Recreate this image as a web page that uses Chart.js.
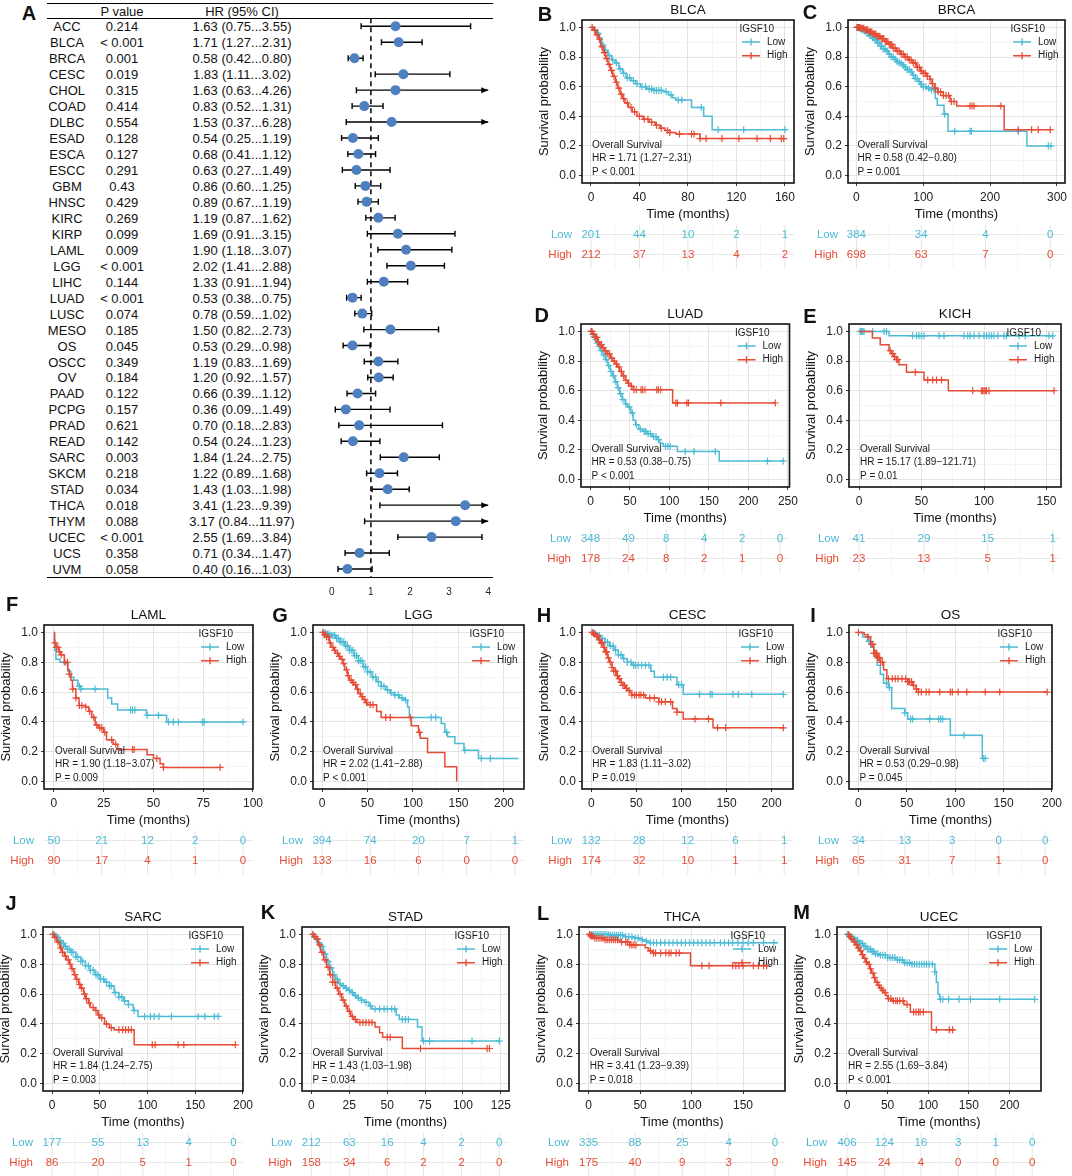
<!DOCTYPE html>
<html>
<head>
<meta charset="utf-8">
<script src="https://cdn.jsdelivr.net/npm/chart.js@4.4.1/dist/chart.umd.min.js"></script>
<style>
  body { margin:0; width:1072px; height:1176px; position:relative; overflow:hidden; background:#fff;
         font-family:'Liberation Sans', Arial, sans-serif; color:#111; }
  .t { position:absolute; white-space:nowrap; transform:translate(-50%,-50%); font-size:13px; line-height:1; }
  .lab { position:absolute; font-weight:bold; font-size:20px; transform:translate(-50%,-50%); line-height:1; }
  .rule { position:absolute; left:47px; width:446px; height:0; border-top:1.3px solid #000; }
  canvas { position:absolute; }
</style>
</head>
<body>
<script>
// ---------- panel A : forest plot ----------
var cancers = ['ACC','BLCA','BRCA','CESC','CHOL','COAD','DLBC','ESAD','ESCA','ESCC','GBM','HNSC','KIRC','KIRP',
  'LAML','LGG','LIHC','LUAD','LUSC','MESO','OS','OSCC','OV','PAAD','PCPG','PRAD','READ','SARC','SKCM','STAD',
  'THCA','THYM','UCEC','UCS','UVM'];
var pvals = ['0.214','< 0.001','0.001','0.019','0.315','0.414','0.554','0.128','0.127','0.291','0.43','0.429','0.269','0.099',
  '0.009','< 0.001','0.144','< 0.001','0.074','0.185','0.045','0.349','0.184','0.122','0.157','0.621','0.142','0.003','0.218','0.034',
  '0.018','0.088','< 0.001','0.358','0.058'];
var hr     = [1.63,1.71,0.58,1.83,1.63,0.83,1.53,0.54,0.68,0.63,0.86,0.89,1.19,1.69,1.90,2.02,1.33,0.53,0.78,1.50,0.53,1.19,1.20,0.66,0.36,0.70,0.54,1.84,1.22,1.43,3.41,3.17,2.55,0.71,0.40];
var hrLow  = [0.75,1.27,0.42,1.11,0.63,0.52,0.37,0.25,0.41,0.27,0.60,0.67,0.87,0.91,1.18,1.41,0.91,0.38,0.59,0.82,0.29,0.83,0.92,0.39,0.09,0.18,0.24,1.24,0.89,1.03,1.23,0.84,1.69,0.34,0.16];
var hrHigh = [3.55,2.31,0.80,3.02,4.26,1.31,6.28,1.19,1.12,1.49,1.25,1.19,1.62,3.15,3.07,2.88,1.94,0.75,1.02,2.73,0.98,1.69,1.57,1.12,1.49,2.83,1.23,2.75,1.68,1.98,9.39,11.97,3.84,1.47,1.03];
var forestTicks = [0, 1, 2, 3, 4];

// ---------- KM curves: [time, survival] steps, censor times, numbers at risk ----------
var blcaLow = [[0,1],[2,0.985],[5,0.96],[7,0.93],[9,0.88],[11,0.845],[14,0.81],[17,0.78],[20,0.76],[23,0.72],[26,0.69],[29,0.66],[33,0.64],[37,0.62],[41,0.60],[46,0.585],[52,0.575],[60,0.565],[64,0.545],[67,0.525],[70,0.51],[83,0.46],[93,0.40],[100,0.31],[161,0.31]];
var blcaLowCens = [3,6,10,12,15,18,21,24,27,30,32,35,38,42,45,48,50,52,54,56,58,62,66,72,75,91,105,126,160];
var blcaHigh = [[0,1],[2,0.98],[4,0.95],[6,0.92],[8,0.87],[10,0.83],[12,0.79],[14,0.75],[16,0.71],[18,0.67],[20,0.63],[22,0.59],[24,0.55],[26,0.52],[28,0.49],[31,0.46],[34,0.43],[38,0.40],[43,0.38],[48,0.36],[53,0.34],[57,0.32],[61,0.305],[65,0.29],[70,0.28],[90,0.25],[160,0.25]];
var blcaHighCens = [1,3,5,7,9,11,13,15,17,19,21,23,25,27,30,33,36,40,44,47,50,54,58,63,65,73,83,85,90,95,108,122,137,148,157,159];
var blcaRiskTimes = [0,40,80,120,160], blcaRiskLow = [201,44,10,2,1], blcaRiskHigh = [212,37,13,4,2];

var brcaLow = [[0,1],[4,0.995],[8,0.985],[12,0.975],[16,0.96],[20,0.945],[24,0.93],[28,0.915],[32,0.895],[36,0.875],[40,0.855],[44,0.84],[48,0.82],[52,0.80],[56,0.785],[60,0.77],[64,0.76],[68,0.745],[72,0.73],[76,0.715],[80,0.70],[84,0.68],[88,0.655],[92,0.635],[96,0.615],[100,0.60],[105,0.59],[110,0.58],[118,0.52],[121,0.475],[131,0.415],[137,0.30],[255,0.20],[292,0.20]];
var brcaLowCens = [1,2,3,5,6,8,10,12,14,16,18,20,22,24,26,28,30,32,34,36,38,40,43,46,49,52,55,58,61,64,67,70,73,76,79,82,85,88,91,94,97,100,104,108,112,116,132,147,170,172,242,287,291];
var brcaHigh = [[0,1],[6,0.995],[12,0.985],[18,0.97],[24,0.955],[30,0.94],[36,0.925],[42,0.905],[48,0.885],[54,0.86],[60,0.84],[66,0.82],[72,0.80],[78,0.78],[84,0.76],[90,0.73],[96,0.705],[100,0.69],[105,0.67],[110,0.65],[113,0.62],[117,0.59],[122,0.565],[130,0.54],[140,0.50],[150,0.47],[221,0.31],[290,0.31]];
var brcaHighCens = [1,2,3,4,5,7,9,11,13,15,17,19,21,23,25,27,29,31,33,35,37,39,41,43,45,47,49,51,53,55,58,61,64,67,70,73,76,79,82,85,88,91,94,97,100,103,106,110,114,118,122,126,130,134,138,142,146,170,173,176,216,242,262,272,290];
var brcaRiskTimes = [0,97,193,290], brcaRiskLow = [384,34,4,0], brcaRiskHigh = [698,63,7,0];

var luadLow = [[0,1],[2,0.98],[4,0.965],[6,0.945],[8,0.92],[10,0.90],[13,0.87],[16,0.84],[19,0.81],[22,0.77],[25,0.73],[28,0.70],[31,0.66],[34,0.62],[37,0.58],[40,0.54],[44,0.51],[47,0.49],[51,0.45],[54,0.40],[57,0.37],[61,0.34],[66,0.325],[72,0.31],[78,0.29],[84,0.27],[88,0.245],[92,0.225],[110,0.19],[163,0.125],[245,0.125]];
var luadLowCens = [1,3,5,7,9,11,14,17,20,23,26,29,32,35,38,41,45,49,53,58,63,68,70,73,76,80,83,86,95,98,101,120,131,158,224,244];
var luadHigh = [[0,1],[3,0.98],[6,0.96],[9,0.93],[12,0.91],[15,0.89],[18,0.87],[21,0.85],[25,0.82],[28,0.80],[31,0.78],[34,0.76],[37,0.73],[40,0.70],[44,0.67],[47,0.65],[50,0.63],[54,0.607],[104,0.517],[234,0.517]];
var luadHighCens = [1,2,4,6,8,10,12,14,16,19,22,24,27,30,33,36,39,42,45,48,52,55,58,64,66,69,84,86,89,108,110,122,124,165,234];
var luadRiskTimes = [0,48,96,144,192,240], luadRiskLow = [348,49,8,4,2,0], luadRiskHigh = [178,24,8,2,1,0];

var kichLow = [[0,1],[24,0.97],[155,0.97]];
var kichLowCens = [1,2,3,4,11,20,22,43,46,48,50,52,64,68,84,87,89,92,96,100,102,104,106,108,111,116,118,128,133,152,155];
var kichHigh = [[0,1],[10.7,0.955],[17,0.91],[24,0.87],[26,0.85],[28,0.83],[30,0.81],[32,0.775],[38,0.725],[52,0.672],[71.5,0.60],[156,0.60]];
var kichHighCens = [25,27,28.5,30,31,45,55,59,62,66,91,98,99,100,101,102,104,156];
var kichRiskTimes = [0,52,103,155], kichRiskLow = [41,29,15,1], kichRiskHigh = [23,13,5,1];

var lamlLow = [[0,1],[0.4,0.88],[1,0.82],[3,0.80],[5,0.79],[7,0.74],[8.5,0.70],[10,0.68],[12,0.64],[13.5,0.62],[27,0.56],[29,0.52],[32,0.48],[46.5,0.445],[56.6,0.40],[95,0.40]];
var lamlLowCens = [12.8,13.5,20.7,38.5,39.5,40.7,46.8,52.5,57.5,60,62.5,74.5,75.5,95];
var lamlHigh = [[0,1],[0.2,0.93],[1,0.90],[2.5,0.87],[3.6,0.85],[5.2,0.80],[6.9,0.75],[7.7,0.72],[8.5,0.68],[9.3,0.62],[11,0.56],[12.6,0.51],[15.8,0.50],[17.5,0.47],[19,0.43],[20.7,0.38],[22.3,0.36],[24.8,0.33],[26.4,0.28],[29.7,0.25],[32,0.215],[46.8,0.18],[50,0.155],[53.3,0.12],[55,0.095],[83.5,0.095]];
var lamlHighCens = [0.5,1.2,2,2.8,3.6,5.5,6.8,7.7,9.5,11,12.8,14,16,18,20,21.5,23,24,25.5,29,31,39.5,40.3,51.7,55,83.5];
var lamlRiskTimes = [0,24,47,71,95], lamlRiskLow = [50,21,12,2,0], lamlRiskHigh = [90,17,4,1,0];

var lggLow = [[0,1],[3,0.995],[6,0.99],[10,0.98],[15,0.96],[20,0.937],[25,0.91],[30,0.88],[35,0.845],[40,0.81],[45,0.77],[50,0.735],[55,0.70],[60,0.67],[65,0.64],[70,0.615],[75,0.595],[80,0.58],[85,0.56],[90,0.545],[94,0.50],[96,0.43],[131,0.39],[135,0.33],[138,0.30],[146,0.255],[156,0.21],[172,0.155],[216,0.155]];
var lggLowCens = [2,4,6,8,10,12,14,16,18,20,22,24,26,28,30,32,34,36,38,40,42,44,46,48,50,53,56,59,62,65,68,72,76,80,84,88,92,120,125,137,157,175,185];
var lggHigh = [[0,1],[3,0.985],[5,0.97],[8,0.93],[10,0.90],[13,0.88],[15,0.86],[18,0.84],[20,0.82],[23,0.79],[25,0.75],[28,0.71],[30,0.68],[33,0.665],[35,0.65],[38,0.62],[40,0.59],[43,0.57],[45,0.55],[48,0.53],[50,0.515],[60,0.47],[65,0.43],[98,0.375],[106,0.33],[108,0.29],[116,0.195],[135,0.10],[148,0]];
var lggHighCens = [1,3,5,7,9,12,14,17,19,22,24,27,29,32,34,37,39,42,44,47,49,53,56,70,75,97,107];
var lggRiskTimes = [0,53,106,159,212], lggRiskLow = [394,74,20,7,1], lggRiskHigh = [133,16,6,0,0];

var cescLow = [[0,1],[3,0.995],[6,0.98],[10,0.96],[15,0.935],[20,0.91],[25,0.88],[30,0.85],[35,0.825],[40,0.80],[45,0.78],[66,0.74],[70,0.70],[95,0.65],[102,0.585],[213,0.585]];
var cescLowCens = [2,4,6,9,12,15,18,21,24,27,30,33,36,40,44,47,49,52,56,60,64,80,84,88,97,100,120,132,134,157,163,178,213];
var cescHigh = [[0,1],[2,0.99],[5,0.975],[8,0.95],[10,0.93],[13,0.90],[15,0.87],[18,0.83],[20,0.80],[23,0.765],[25,0.74],[28,0.71],[30,0.69],[33,0.665],[35,0.645],[38,0.625],[40,0.61],[43,0.595],[45,0.58],[60,0.56],[75,0.535],[90,0.49],[95,0.465],[102,0.42],[135,0.36],[213,0.36]];
var cescHighCens = [1,3,4,6,7,9,11,12,14,16,17,19,21,23,25,27,29,31,33,35,37,39,42,45,48,50,53,55,58,65,70,75,78,82,88,95,115,130,140,149,213];
var cescRiskTimes = [0,53,107,160,214], cescRiskLow = [132,28,12,6,1], cescRiskHigh = [174,32,10,1,1];

var osLow = [[0,1],[4.3,0.97],[9.4,0.94],[12.7,0.90],[16,0.84],[19.4,0.78],[22.7,0.72],[26,0.66],[31,0.63],[34.4,0.49],[48,0.46],[51,0.42],[95,0.31],[128,0.155],[131,0.155]];
var osLowCens = [11,12,29,32,48,54,56,73.6,83,85,87,109,129,131];
var osHigh = [[0,1],[6,0.985],[9.4,0.97],[12.7,0.92],[16,0.86],[19.4,0.83],[22.7,0.80],[26,0.75],[29.4,0.69],[51,0.67],[56,0.645],[59.5,0.62],[62,0.60],[195,0.60]];
var osHighCens = [0,10,14,15,16,17,18,19,20,21,22,23,25,31,35,38,41,45,49,51,52,53,55,57,60,62,65,70,73,84,95,97,103,112,131,146,195];
var osRiskTimes = [0,48,97,145,193], osRiskLow = [34,13,3,0,0], osRiskHigh = [65,31,7,1,0];

var sarcLow = [[0,1],[3,0.99],[5,0.98],[8,0.96],[10,0.94],[13,0.92],[16,0.90],[20,0.88],[25,0.85],[30,0.82],[35,0.79],[40,0.76],[45,0.73],[50,0.70],[55,0.68],[60,0.655],[65,0.61],[70,0.58],[75,0.555],[80,0.53],[85,0.49],[90,0.45],[175,0.45]];
var sarcLowCens = [1,2,4,6,8,10,12,14,16,18,20,22,25,27,30,32,35,38,40,43,46,48,51,54,57,60,62,66,70,73,76,80,86,97,103,107,112,125,153,160,170,174];
var sarcHigh = [[0,1],[2,0.98],[5,0.95],[8,0.91],[10,0.88],[13,0.855],[15,0.83],[18,0.80],[20,0.77],[23,0.73],[25,0.70],[28,0.665],[30,0.64],[33,0.60],[35,0.57],[38,0.54],[40,0.51],[45,0.49],[48,0.46],[50,0.44],[55,0.40],[60,0.375],[65,0.36],[86,0.26],[192,0.26]];
var sarcHighCens = [1,3,6,9,11,14,17,19,21,24,26,29,31,34,36,39,43,46,49,52,57,62,70,74,77,80,83,105,108,132,138,192];
var sarcRiskTimes = [0,48,95,143,190], sarcRiskLow = [177,55,13,4,0], sarcRiskHigh = [86,20,5,1,0];

var stadLow = [[0,1],[1.5,0.985],[3,0.97],[4.5,0.945],[6,0.92],[8,0.87],[10,0.82],[12,0.775],[14,0.73],[16,0.70],[18,0.67],[20,0.655],[22,0.64],[24,0.625],[26,0.61],[28,0.59],[30,0.575],[33,0.56],[35,0.545],[38,0.52],[40,0.50],[56,0.46],[58,0.43],[70,0.38],[73,0.285],[124,0.285]];
var stadLowCens = [1,2,3.5,5,7,9,11,13,15,17,19,21,23,25,27,29,31,33,36,39,42,45,48,50,53,55,60,62,64,74,78,106,124];
var stadHigh = [[0,1],[1.5,0.985],[3,0.97],[4.5,0.93],[6,0.88],[8,0.83],[10,0.78],[12,0.73],[14,0.68],[16,0.64],[18,0.60],[20,0.56],[22,0.52],[24,0.485],[26,0.45],[28,0.43],[30,0.41],[42,0.38],[45,0.34],[47,0.31],[60,0.235],[117,0.235]];
var stadHighCens = [1,2.5,4,5.5,7,9,11,12.5,14,15.5,17,19,21,23,25,27,29,32,34,36,38,40,50,52,72,116,117.5];
var stadRiskTimes = [0,25,50,74,99,124], stadRiskLow = [212,63,16,4,2,0], stadRiskHigh = [158,34,6,2,2,0];

var thcaLow = [[0,1],[20,0.995],[35,0.985],[45,0.975],[50,0.965],[54,0.955],[58,0.945],[184,0.945]];
var thcaLowCens = [1,3,5,7,9,11,13,15,17,19,21,23,25,27,29,31,33,36,39,42,45,48,52,56,60,63,66,70,74,78,82,86,90,94,98,102,106,110,114,118,122,128,132,136,140,145,150,155,160,170,180];
var thcaHigh = [[0,1],[2,0.99],[5,0.975],[15,0.965],[30,0.95],[40,0.93],[55,0.91],[58,0.89],[62,0.875],[99,0.79],[174,0.79]];
var thcaHighCens = [1,2,3,4,6,8,10,12,14,16,18,20,22,24,26,28,32,36,38,40,42,44,46,60,63,65,70,75,78,80,85,88,110,117,140,143,146,150,160,165,170,173];
var thcaRiskTimes = [0,45,91,136,181], thcaRiskLow = [335,88,25,4,0], thcaRiskHigh = [175,40,9,3,0];

var ucecLow = [[0,1],[3,0.99],[5,0.98],[8,0.97],[10,0.96],[15,0.94],[20,0.92],[25,0.90],[30,0.885],[35,0.87],[40,0.86],[50,0.845],[60,0.83],[70,0.81],[80,0.80],[108,0.75],[110,0.68],[112,0.60],[114,0.565],[231,0.565]];
var ucecLowCens = [1,3,5,7,9,11,13,15,17,19,21,23,25,27,29,31,33,35,38,41,44,47,50,53,56,59,62,65,68,71,74,77,80,83,86,89,92,95,98,101,105,108,115,118,125,138,152,188,231];
var ucecHigh = [[0,1],[3,0.985],[5,0.97],[8,0.95],[10,0.93],[13,0.91],[15,0.89],[18,0.865],[20,0.84],[23,0.815],[25,0.80],[28,0.77],[30,0.74],[33,0.71],[35,0.68],[38,0.66],[40,0.64],[43,0.625],[45,0.61],[48,0.59],[50,0.57],[55,0.555],[70,0.53],[78,0.48],[104,0.36],[133,0.36]];
var ucecHighCens = [2,4,6,9,12,14,17,19,22,24,27,29,32,34,37,39,42,44,47,51,54,57,60,62,65,69,74,82,85,88,90,94,110,126,130];
var ucecRiskTimes = [0,46,91,137,183,228], ucecRiskLow = [406,124,16,3,1,0], ucecRiskHigh = [145,24,4,0,0,0];

var yTicks = [0,0.1,0.2,0.3,0.4,0.5,0.6,0.7,0.8,0.9,1.0];

// ---------- layout ----------
var RED = '#E64B35', BLUE = '#4DBBD5', FONT = "'Liberation Sans', Arial, sans-serif";
Chart.defaults.font.family = FONT;
Chart.defaults.color = '#222';

var panels = [
  {letter:'B', lx:545, ly:13.5, title:'BLCA', box:[581.7,20.3,794,183.4], xmin:-7.4, xmax:167.5, xMajor:[0,40,80,120,160],
   low:blcaLow, lowCens:blcaLowCens, high:blcaHigh, highCens:blcaHighCens, risk:[blcaRiskTimes,blcaRiskLow,blcaRiskHigh], hrText:'HR = 1.71 (1.27\u22122.31)', pText:'P < 0.001'},
  {letter:'C', lx:810, ly:12, title:'BRCA', box:[848.3,20.3,1065,183.4], xmin:-12.6, xmax:312, xMajor:[0,100,200,300],
   low:brcaLow, lowCens:brcaLowCens, high:brcaHigh, highCens:brcaHighCens, risk:[brcaRiskTimes,brcaRiskLow,brcaRiskHigh], hrText:'HR = 0.58 (0.42\u22120.80)', pText:'P = 0.001'},
  {letter:'D', lx:541.7, ly:315, title:'LUAD', box:[581,324.3,794.3,487.4], xmin:-12, xmax:252, xMajor:[0,50,100,150,200,250],
   low:luadLow, lowCens:luadLowCens, high:luadHigh, highCens:luadHighCens, risk:[luadRiskTimes,luadRiskLow,luadRiskHigh], hrText:'HR = 0.53 (0.38\u22120.75)', pText:'P < 0.001'},
  {letter:'E', lx:810, ly:316, title:'KICH', box:[849,324.3,1060.7,487.4], xmin:-8, xmax:161.6, xMajor:[0,50,100,150],
   low:kichLow, lowCens:kichLowCens, high:kichHigh, highCens:kichHighCens, risk:[kichRiskTimes,kichRiskLow,kichRiskHigh], hrText:'HR = 15.17 (1.89\u2212121.71)', pText:'P = 0.01'},
  {letter:'F', lx:12, ly:604, title:'LAML', box:[44.3,624.5,259,788.4], xmin:-5, xmax:100, xMajor:[0,25,50,75,100],
   low:lamlLow, lowCens:lamlLowCens, high:lamlHigh, highCens:lamlHighCens, risk:[lamlRiskTimes,lamlRiskLow,lamlRiskHigh], hrText:'HR = 1.90 (1.18\u22123.07)', pText:'P = 0.009'},
  {letter:'G', lx:280, ly:615, title:'LGG', box:[313.3,624.5,524,788.4], xmin:-9.9, xmax:222, xMajor:[0,50,100,150,200],
   low:lggLow, lowCens:lggLowCens, high:lggHigh, highCens:lggHighCens, risk:[lggRiskTimes,lggRiskLow,lggRiskHigh], hrText:'HR = 2.02 (1.41\u22122.88)', pText:'P < 0.001'},
  {letter:'H', lx:544, ly:615, title:'CESC', box:[581.7,624.5,792.3,788.4], xmin:-10.3, xmax:223.7, xMajor:[0,50,100,150,200],
   low:cescLow, lowCens:cescLowCens, high:cescHigh, highCens:cescHighCens, risk:[cescRiskTimes,cescRiskLow,cescRiskHigh], hrText:'HR = 1.83 (1.11\u22123.02)', pText:'P = 0.019'},
  {letter:'I', lx:813, ly:615, title:'OS', box:[849.3,624.5,1058.3,788.4], xmin:-9.7, xmax:200, xMajor:[0,50,100,150,200],
   low:osLow, lowCens:osLowCens, high:osHigh, highCens:osHighCens, risk:[osRiskTimes,osRiskLow,osRiskHigh], hrText:'HR = 0.53 (0.29\u22120.98)', pText:'P = 0.045'},
  {letter:'J', lx:11, ly:903, title:'SARC', box:[43.3,926.9,249.3,1090.8], xmin:-9.5, xmax:200, xMajor:[0,50,100,150,200],
   low:sarcLow, lowCens:sarcLowCens, high:sarcHigh, highCens:sarcHighCens, risk:[sarcRiskTimes,sarcRiskLow,sarcRiskHigh], hrText:'HR = 1.84 (1.24\u22122.75)', pText:'P = 0.003'},
  {letter:'K', lx:268, ly:911.5, title:'STAD', box:[302.3,926.9,509,1090.8], xmin:-6.2, xmax:130.4, xMajor:[0,25,50,75,100,125],
   low:stadLow, lowCens:stadLowCens, high:stadHigh, highCens:stadHighCens, risk:[stadRiskTimes,stadRiskLow,stadRiskHigh], hrText:'HR = 1.43 (1.03\u22121.98)', pText:'P = 0.034'},
  {letter:'L', lx:543, ly:912.5, title:'THCA', box:[579.3,926.9,785.3,1090.8], xmin:-9.4, xmax:190.8, xMajor:[0,50,100,150],
   low:thcaLow, lowCens:thcaLowCens, high:thcaHigh, highCens:thcaHighCens, risk:[thcaRiskTimes,thcaRiskLow,thcaRiskHigh], hrText:'HR = 3.41 (1.23\u22129.39)', pText:'P = 0.018'},
  {letter:'M', lx:801.7, ly:912, title:'UCEC', box:[837.3,926.9,1041.7,1090.8], xmin:-12.3, xmax:238.8, xMajor:[0,50,100,150,200],
   low:ucecLow, lowCens:ucecLowCens, high:ucecHigh, highCens:ucecHighCens, risk:[ucecRiskTimes,ucecRiskLow,ucecRiskHigh], hrText:'HR = 2.55 (1.69\u22123.84)', pText:'P < 0.001'}
];

function el(cls, x, y, text) {
  var d = document.createElement('div');
  d.className = cls;
  d.style.left = x + 'px';
  d.style.top = y + 'px';
  d.textContent = text;
  document.body.appendChild(d);
  return d;
}

function survAt(curve, t) {
  var s = curve[0][1];
  curve.forEach(function (d) { if (d[0] <= t) s = d[1]; });
  return s;
}

function midpoints(a) {
  return a.slice(1).map(function (v, i) { return (v + a[i]) / 2; });
}

// ---------- forest plot ----------
el('lab', 29, 12.5, 'A');
[2.7, 18, 577].forEach(function (y) { el('rule', 47, y, ''); });
el('t', 122, 11, 'P value');
el('t', 242, 11, 'HR (95% CI)');
var rowH = (577 - 18.3) / cancers.length;
cancers.forEach(function (c, i) {
  var y = 18.3 + rowH * (i + 0.5);
  el('t', 67, y, c);
  el('t', 122, y, pvals[i]);
  el('t', 242, y, hr[i].toFixed(2) + ' (' + hrLow[i].toFixed(2) + '...' + hrHigh[i].toFixed(2) + ')');
});

var fc = document.createElement('canvas');
fc.width = 180; fc.height = 600;
fc.style.left = '320px'; fc.style.top = '0px'; fc.style.width = '180px'; fc.style.height = '600px';
document.body.appendChild(fc);

var whiskers = {
  id: 'whiskers',
  beforeDatasetsDraw: function (chart) {
    var ctx = chart.ctx, xs = chart.scales.x, ys = chart.scales.y, a = chart.chartArea;
    ctx.save();
    ctx.strokeStyle = '#000';
    ctx.lineWidth = 1.5;
    ctx.setLineDash([5, 4]);
    var x1 = xs.getPixelForValue(1);
    ctx.beginPath(); ctx.moveTo(x1, a.top); ctx.lineTo(x1, a.bottom); ctx.stroke();
    ctx.setLineDash([]);
    ctx.lineWidth = 1.4;
    hr.forEach(function (v, i) {
      var y = ys.getPixelForValue(i);
      var xa = xs.getPixelForValue(hrLow[i]);
      var xb = xs.getPixelForValue(Math.min(hrHigh[i], xs.max));
      ctx.beginPath();
      ctx.moveTo(xa, y); ctx.lineTo(xb, y);
      ctx.moveTo(xa, y - 3); ctx.lineTo(xa, y + 3);
      if (hrHigh[i] <= xs.max) { ctx.moveTo(xb, y - 3); ctx.lineTo(xb, y + 3); }
      ctx.stroke();
      if (hrHigh[i] > xs.max) {
        ctx.fillStyle = '#000';
        ctx.beginPath();
        ctx.moveTo(xb, y); ctx.lineTo(xb - 7, y - 3); ctx.lineTo(xb - 7, y + 3); ctx.closePath();
        ctx.fill();
      }
    });
    ctx.restore();
  }
};

new Chart(fc, {
  type: 'scatter',
  data: { datasets: [{ data: hr.map(function (v, i) { return { x: v, y: i }; }),
    pointRadius: 5, backgroundColor: '#4E7FBF', borderWidth: 0 }] },
  options: {
    responsive: false, animation: false,
    layout: { padding: { left: 10.7, right: 11, top: 18.3, bottom: 0 } },
    plugins: { legend: { display: false }, tooltip: { enabled: false } },
    scales: {
      x: { type: 'linear', min: 0, max: 4,
           afterBuildTicks: function (s) { s.ticks = forestTicks.map(function (v) { return { value: v }; }); },
           afterFit: function (s) { s.height = 23; },
           grid: { display: false, drawTicks: false }, border: { display: false },
           ticks: { padding: 9, font: { size: 10 }, color: '#222', autoSkip: false, maxRotation: 0 } },
      y: { type: 'linear', min: -0.5, max: cancers.length - 0.5, reverse: true, display: false }
    }
  },
  plugins: [whiskers]
});

// ---------- KM panels ----------
function makeDecor(p) {
  return {
    id: 'decor' + p.letter,
    afterDatasetsDraw: function (chart) {
      var ctx = chart.ctx, a = chart.chartArea, xs = chart.scales.x, ys = chart.scales.y;
      ctx.save();
      ctx.strokeStyle = '#111'; ctx.lineWidth = 1.6;
      ctx.strokeRect(a.left, a.top, a.right - a.left, a.bottom - a.top);
      // legend
      ctx.font = '10px ' + FONT; ctx.fillStyle = '#1a1a1a';
      ctx.textAlign = 'left'; ctx.textBaseline = 'middle';
      ctx.fillText('IGSF10', a.right - 54.5, a.top + 9.5);
      [[BLUE, 'Low', 22], [RED, 'High', 35.7]].forEach(function (g) {
        var y = a.top + g[2];
        ctx.strokeStyle = g[0]; ctx.lineWidth = 1.4;
        ctx.beginPath();
        ctx.moveTo(a.right - 52, y); ctx.lineTo(a.right - 34, y);
        ctx.moveTo(a.right - 43, y - 3.5); ctx.lineTo(a.right - 43, y + 3.5);
        ctx.stroke();
        ctx.fillStyle = '#1a1a1a';
        ctx.fillText(g[1], a.right - 27, y);
      });
      // annotation
      var x0 = xs.getPixelForValue(0) + 1;
      ctx.fillText('Overall Survival', x0, ys.getPixelForValue(0.205));
      ctx.fillText(p.hrText, x0, ys.getPixelForValue(0.115));
      ctx.fillText(p.pText, x0, ys.getPixelForValue(0.025));
      ctx.restore();
    },
    afterDraw: function (chart) {
      var ctx = chart.ctx, a = chart.chartArea, xs = chart.scales.x;
      ctx.save();
      ctx.font = '13.5px ' + FONT; ctx.fillStyle = '#111';
      ctx.textAlign = 'center'; ctx.textBaseline = 'middle';
      ctx.fillText(p.title, (a.left + a.right) / 2, a.top - 9.5);
      // numbers-at-risk table
      var times = p.risk[0], yLow = a.bottom + 51.6, yHigh = a.bottom + 71.4;
      var t0 = a.bottom + 42, t1 = a.bottom + 86;
      ctx.lineWidth = 0.8; ctx.strokeStyle = '#f0f0f0';
      midpoints(times).forEach(function (t) {
        var x = xs.getPixelForValue(t);
        ctx.beginPath(); ctx.moveTo(x, t0); ctx.lineTo(x, t1); ctx.stroke();
      });
      ctx.lineWidth = 1; ctx.strokeStyle = '#e6e6e6';
      times.forEach(function (t) {
        var x = xs.getPixelForValue(t);
        ctx.beginPath(); ctx.moveTo(x, t0); ctx.lineTo(x, t1); ctx.stroke();
      });
      [yLow, yHigh].forEach(function (y) {
        ctx.beginPath(); ctx.moveTo(a.left, y); ctx.lineTo(a.right, y); ctx.stroke();
      });
      ctx.font = '11.5px ' + FONT;
      p.risk[1].forEach(function (n, i) { ctx.fillStyle = BLUE; ctx.fillText(String(n), xs.getPixelForValue(times[i]), yLow); });
      p.risk[2].forEach(function (n, i) { ctx.fillStyle = RED; ctx.fillText(String(n), xs.getPixelForValue(times[i]), yHigh); });
      ctx.textAlign = 'right';
      ctx.fillStyle = BLUE; ctx.fillText('Low', a.left - 10, yLow);
      ctx.fillStyle = RED; ctx.fillText('High', a.left - 10, yHigh);
      ctx.restore();
    }
  };
}

function kmPanel(p) {
  var bw = p.box[2] - p.box[0], bh = p.box[3] - p.box[1];
  var W = Math.round(50 + bw + 8), H = Math.round(34 + bh + 39 + 52);
  var cv = document.createElement('canvas');
  cv.width = W; cv.height = H;
  cv.style.left = (p.box[0] - 50) + 'px'; cv.style.top = (p.box[1] - 34) + 'px';
  cv.style.width = W + 'px'; cv.style.height = H + 'px';
  document.body.appendChild(cv);
  el('lab', p.lx, p.ly, p.letter);

  var xMinor = midpoints(p.xMajor);
  var xIsMajor = function (v) { return p.xMajor.indexOf(v) >= 0; };
  var yIsMajor = function (v) { return Math.round(v * 10) % 2 === 0; };
  function grid(isMajor) {
    return {
      color: function (c) { return c.tick && isMajor(c.tick.value) ? '#e3e3e3' : '#f1f1f1'; },
      lineWidth: function (c) { return c.tick && isMajor(c.tick.value) ? 1 : 0.7; },
      drawTicks: true, tickLength: 3, tickWidth: 1,
      tickColor: function (c) { return c.tick && isMajor(c.tick.value) ? '#333' : 'rgba(0,0,0,0)'; }
    };
  }
  function curve(data, color) {
    return { data: data.map(function (d) { return { x: d[0], y: d[1] }; }), stepped: true,
      borderColor: color, borderWidth: 1.5, pointRadius: 0, fill: false };
  }
  function marks(times, crv, color) {
    return { data: times.map(function (t) { return { x: t, y: survAt(crv, t) }; }), showLine: false,
      pointStyle: 'cross', pointRadius: 3.5, pointBorderColor: color, pointBorderWidth: 1.2, borderColor: color };
  }

  new Chart(cv, {
    type: 'line',
    data: { datasets: [curve(p.high, RED), marks(p.highCens, p.high, RED), curve(p.low, BLUE), marks(p.lowCens, p.low, BLUE)] },
    options: {
      responsive: false, animation: false,
      layout: { padding: { left: 0, top: 34, right: 8, bottom: 52 } },
      plugins: { legend: { display: false }, tooltip: { enabled: false } },
      scales: {
        x: { type: 'linear', min: p.xmin, max: p.xmax,
             afterBuildTicks: function (s) {
               s.ticks = p.xMajor.concat(xMinor).sort(function (a, b) { return a - b; }).map(function (v) { return { value: v }; });
             },
             afterFit: function (s) { s.height = 39; },
             grid: grid(xIsMajor), border: { display: false },
             ticks: { autoSkip: false, maxRotation: 0, padding: 4, font: { size: 12 }, color: '#222',
                      callback: function (v) { return xIsMajor(v) ? String(v) : ''; } },
             title: { display: true, text: 'Time (months)', font: { size: 13 }, color: '#111', padding: 0 } },
        y: { type: 'linear', min: -0.05, max: 1.05,
             afterBuildTicks: function (s) { s.ticks = yTicks.map(function (v) { return { value: v }; }); },
             afterFit: function (s) { s.width = 50; },
             grid: grid(yIsMajor), border: { display: false },
             ticks: { autoSkip: false, padding: 3, font: { size: 12 }, color: '#222',
                      callback: function (v) { return yIsMajor(v) ? v.toFixed(1) : ''; } },
             title: { display: true, text: 'Survival probability', font: { size: 13 }, color: '#111', padding: { top: 5, bottom: 0 } } }
      }
    },
    plugins: [makeDecor(p)]
  });
}

panels.forEach(kmPanel);
</script>
</body>
</html>
